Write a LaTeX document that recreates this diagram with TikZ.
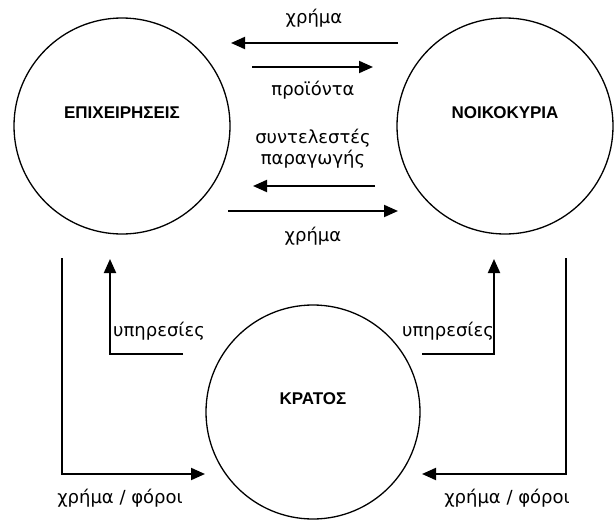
\documentclass[tikz,border=0pt]{standalone}
\usepackage{fontspec}
\setmainfont{DejaVu Sans}
\newfontfamily\titlefont{Liberation Sans}
\usetikzlibrary{arrows.meta,positioning}

\begin{document}
\begin{tikzpicture}[x=1pt,y=-1pt,
    sector/.style={draw,circle,line width=1.3pt,minimum size=216pt,inner sep=0pt},
    title/.style={font=\titlefont\fontsize{17}{19}\selectfont\bfseries},
    lbl/.style={font=\fontsize{18}{21}\selectfont,align=center,inner sep=1pt},
    flow/.style={line width=2pt,-{Triangle[length=14pt,width=12pt]}}]
    \useasboundingbox (0,0) rectangle (614,522);
    % the three sectors
    \node[sector,label={[title,yshift=13pt]center:ΕΠΙΧΕΙΡΗΣΕΙΣ}] (firms) at (122,126) {};
    \node[sector,label={[title,yshift=13pt]center:ΝΟΙΚΟΚΥΡΙΑ}] (homes) at (505,126) {};
    \node[sector,minimum size=214pt,label={[title,yshift=13pt]center:ΚΡΑΤΟΣ}] (state) at (313,412) {};
    % arrow ends
    \coordinate (pay1a) at (398,43);   \coordinate (pay1b) at (231,43);
    \coordinate (goodsa) at (252,67);  \coordinate (goodsb) at (373,67);
    \coordinate (facta) at (375,186);  \coordinate (factb) at (253,186);
    \coordinate (pay2a) at (228,211);  \coordinate (pay2b) at (398,211);
    \coordinate (taxLa) at (62,258);   \coordinate (taxLb) at (205,474);
    \coordinate (taxRa) at (566,258);  \coordinate (taxRb) at (422,474);
    \coordinate (servLa) at (183,354); \coordinate (servLb) at (110,259);
    \coordinate (servRa) at (422,354); \coordinate (servRb) at (494,259);
    % flows between firms and households
    \draw[flow] (pay1a) -- (pay1b);
    \draw[flow] (goodsa) -- (goodsb);
    \draw[flow] (facta) -- (factb);
    \draw[flow] (pay2a) -- (pay2b);
    % flows with the state
    \draw[flow] (taxLa) |- (taxLb);
    \draw[flow] (taxRa) |- (taxRb);
    \draw[flow] (servLa) -| (servLb);
    \draw[flow] (servRa) -| (servRb);
    % labels
    \node[lbl] (pay1) at (314,18) {χρήμα};
    \node[lbl] (goods) at (313,90) {προϊόντα};
    \node[lbl] (fact) at (313,149) {συντελεστές\\παραγωγής};
    \node[lbl] (pay2) at (313,236) {χρήμα};
    \node[lbl] (servL) at (159,331) {υπηρεσίες};
    \node[lbl] (servR) at (448,331) {υπηρεσίες};
    \node[lbl] (taxL) at (120,498) {χρήμα / φόροι};
    \node[lbl] (taxR) at (507,498) {χρήμα / φόροι};
\end{tikzpicture}
\end{document}
